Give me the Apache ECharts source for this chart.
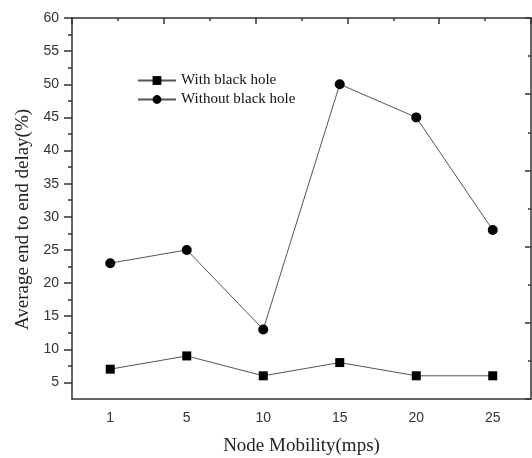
<!DOCTYPE html>
<html>
<head>
<meta charset="utf-8">
<script src="https://cdn.jsdelivr.net/npm/echarts@6/dist/echarts.min.js"></script>
<style>
  html, body { margin: 0; padding: 0; background: #fff; }
  #chart { width: 532px; height: 458px; }
</style>
</head>
<body>
<div id="chart"></div>
<script>
  // node mobility (mps)
  var categories = ['1', '5', '10', '15', '20', '25'];
  var withBlackHole = [7, 9, 6, 8, 6, 6];
  var withoutBlackHole = [23, 25, 13, 50, 45, 28];
  // left axis labels / minor ticks
  var yTickLabels = [5, 10, 15, 20, 25, 30, 35, 40, 45, 50, 55, 60];
  var yMinorTicks = [7.5, 12.5, 17.5, 22.5, 27.5, 32.5, 37.5, 42.5, 47.5, 52.5, 57.5];

  var axisColor = '#333';
  var gridBox = { left: 72, top: 18, right: 1, bottom: 59, outerBoundsMode: 'none' };

  var chart = echarts.init(document.getElementById('chart'));
  var option = {
    backgroundColor: '#fff',
    animation: false,
    grid: [
      Object.assign({}, gridBox),
      Object.assign({}, gridBox)   // overlay grid, only for minor ticks
    ],
    legend: {
      orient: 'vertical',
      left: 137,
      top: 73,
      padding: 0,
      itemWidth: 38,
      itemHeight: 11,
      itemGap: 4,
      textStyle: { fontFamily: 'Liberation Serif', fontSize: 15, color: '#111' },
      data: ['With black hole', 'Without black hole']
    },
    xAxis: [
      {
        gridIndex: 0,
        type: 'category',
        position: 'bottom',
        data: categories,
        boundaryGap: true,
        name: 'Node Mobility(mps)',
        nameLocation: 'middle',
        nameGap: 38,
        nameTextStyle: { fontFamily: 'Liberation Serif', fontSize: 19, color: '#222' },
        axisLine: { lineStyle: { color: axisColor, width: 1.5 } },
        axisTick: { alignWithLabel: true, length: 7, lineStyle: { color: axisColor, width: 1.5 } },
        axisLabel: { margin: 12, fontFamily: 'Liberation Sans', fontSize: 14, color: '#333' },
        splitLine: { show: false }
      },
      {
        // mirror axis on top
        gridIndex: 0,
        type: 'value',
        position: 'top',
        min: 0,
        max: 5,
        interval: 1,
        axisLine: { lineStyle: { color: axisColor, width: 1.5 } },
        axisTick: { inside: true, length: 6, lineStyle: { color: axisColor, width: 1.5 } },
        minorTick: { show: true, splitNumber: 2, length: 3, lineStyle: { color: axisColor, width: 1.5 } },
        axisLabel: { show: false },
        splitLine: { show: false }
      },
      {
        gridIndex: 1,
        type: 'category',
        position: 'bottom',
        data: categories,
        boundaryGap: true,
        axisLine: { show: false },
        axisTick: { length: 4, lineStyle: { color: axisColor, width: 1.5 } },
        axisLabel: { show: false },
        splitLine: { show: false }
      }
    ],
    yAxis: [
      {
        gridIndex: 0,
        type: 'value',
        position: 'left',
        min: 2.5,
        max: 60,
        name: 'Average end to end delay(%)',
        nameLocation: 'middle',
        nameGap: 37,
        nameTextStyle: { fontFamily: 'Liberation Serif', fontSize: 19, color: '#222', padding: [0, 22, 0, 0] },
        axisLine: { show: true, lineStyle: { color: axisColor, width: 1.5 } },
        axisTick: { show: true, length: 8, customValues: yTickLabels, lineStyle: { color: axisColor, width: 1.5 } },
        axisLabel: { margin: 13, customValues: yTickLabels, fontFamily: 'Liberation Sans', fontSize: 14, color: '#333' },
        splitLine: { show: false }
      },
      {
        // mirror axis on right
        gridIndex: 0,
        type: 'value',
        position: 'right',
        min: 0,
        max: 5,
        interval: 1,
        axisLine: { show: true, lineStyle: { color: axisColor, width: 1.5 } },
        axisTick: { show: true, inside: true, length: 6, lineStyle: { color: axisColor, width: 1.5 } },
        minorTick: { show: true, splitNumber: 2, length: 3, lineStyle: { color: axisColor, width: 1.5 } },
        axisLabel: { show: false },
        splitLine: { show: false }
      },
      {
        gridIndex: 1,
        type: 'value',
        position: 'left',
        min: 2.5,
        max: 60,
        axisLine: { show: false },
        axisTick: { show: true, length: 4, customValues: yMinorTicks, lineStyle: { color: axisColor, width: 1.5 } },
        axisLabel: { show: false },
        splitLine: { show: false }
      }
    ],
    series: [
      {
        name: 'With black hole',
        type: 'line',
        xAxisIndex: 0,
        yAxisIndex: 0,
        data: withBlackHole,
        symbol: 'rect',
        symbolSize: 9,
        lineStyle: { color: '#555', width: 1 },
        itemStyle: { color: '#000' }
      },
      {
        name: 'Without black hole',
        type: 'line',
        xAxisIndex: 0,
        yAxisIndex: 0,
        data: withoutBlackHole,
        symbol: 'circle',
        symbolSize: 10,
        lineStyle: { color: '#555', width: 1 },
        itemStyle: { color: '#000' }
      }
    ]
  };
  chart.setOption(option);
</script>
</body>
</html>
